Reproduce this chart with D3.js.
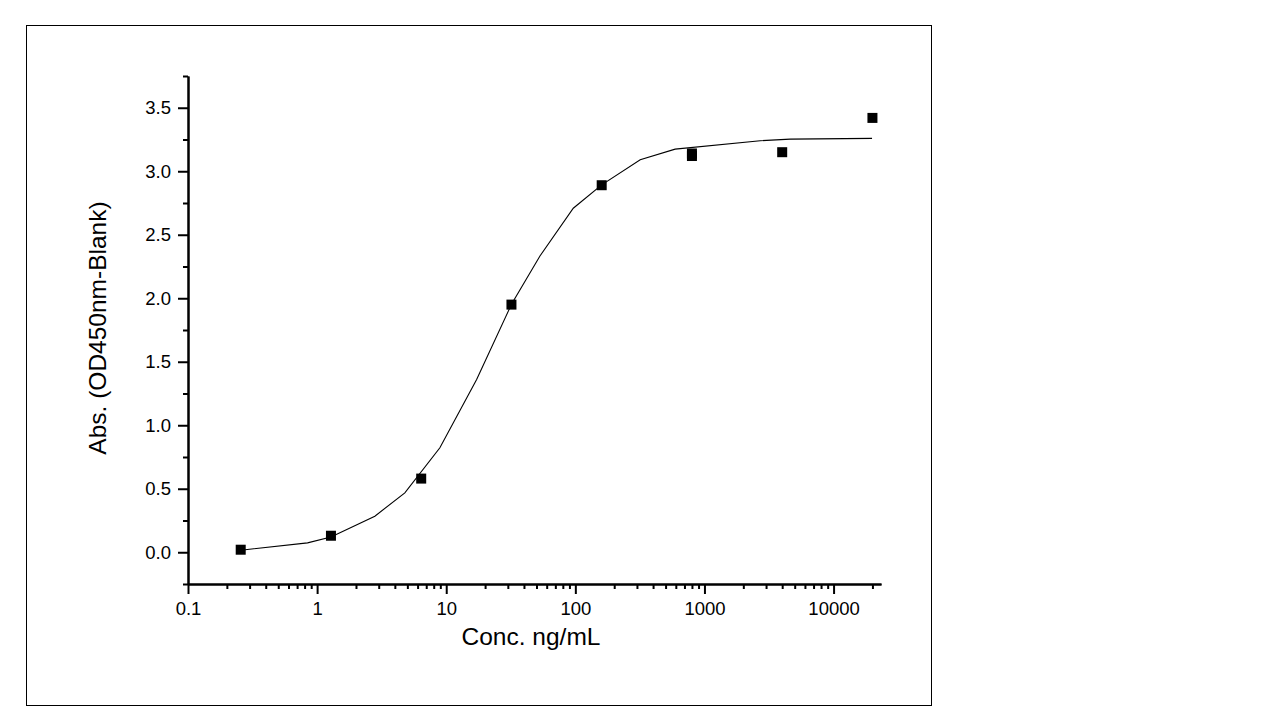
<!DOCTYPE html>
<html>
<head>
<meta charset="utf-8">
<script src="https://cdn.jsdelivr.net/npm/d3@7"></script>
<style>
  html, body { margin: 0; padding: 0; background: #fff; }
  svg { display: block; }
  text { font-family: Arial, "Liberation Sans", sans-serif; fill: #000; }
</style>
</head>
<body>
<svg id="chart" width="1280" height="720"></svg>
<script>
// Measured data points (concentration ng/mL, OD450nm - blank)
const concentrations = [0.256, 1.28, 6.4, 32, 160, 800, 800, 4000, 20000];
const absorbances    = [0.02, 0.13, 0.58, 1.95, 2.89, 3.12, 3.14, 3.15, 3.42];

// Fitted curve vertices
const fitConc = [0.256, 0.843, 1.28, 2.80, 4.78, 8.93, 17.2, 32.1, 53.2, 96.4, 160, 318, 593, 2704, 4617, 19860];
const fitAbs  = [0.016, 0.074, 0.120, 0.284, 0.468, 0.823, 1.361, 1.955, 2.333, 2.709, 2.893, 3.090, 3.174, 3.240, 3.253, 3.259];

// Axis ticks
const xMajorTicks = [0.1, 1, 10, 100, 1000, 10000];
const xTickLabels = ["0.1", "1", "10", "100", "1000", "10000"];
const yMajorTicks = [0, 0.5, 1, 1.5, 2, 2.5, 3, 3.5];
const yTickLabels = ["0.0", "0.5", "1.0", "1.5", "2.0", "2.5", "3.0", "3.5"];

const xTitle = "Conc. ng/mL";
const yTitle = "Abs. (OD450nm-Blank)";

const svg = d3.select("#chart");

// outer frame
svg.append("rect")
  .attr("x", 26.5).attr("y", 25.5)
  .attr("width", 905).attr("height", 680)
  .attr("fill", "none").attr("stroke", "#000").attr("stroke-width", 1);

const x = d3.scaleLog().domain([0.1, 23300]).range([188, 881]);
const y = d3.scaleLinear().domain([-0.25, 3.75]).range([584, 76]);

// minor ticks
const xMinor = [];
for (let e = -1; e <= 4; e++) {
  for (let m = 2; m <= 9; m++) {
    const v = m * Math.pow(10, e);
    if (v <= 23300) xMinor.push(v);
  }
}
const yMinor = d3.range(-0.25, 3.76, 0.5);

const xAxis = svg.append("g").attr("transform", "translate(0,584)");
xAxis.call(d3.axisBottom(x).tickValues(xMajorTicks).tickSize(10)
  .tickFormat((d, i) => xTickLabels[i]).tickSizeOuter(0));
const xAxisMinor = svg.append("g").attr("transform", "translate(0,584)");
xAxisMinor.call(d3.axisBottom(x).tickValues(xMinor).tickSize(5).tickFormat("").tickSizeOuter(0));

const yAxis = svg.append("g").attr("transform", "translate(188,0)");
yAxis.call(d3.axisLeft(y).tickValues(yMajorTicks).tickSize(10)
  .tickFormat((d, i) => yTickLabels[i]).tickSizeOuter(0));
const yAxisMinor = svg.append("g").attr("transform", "translate(188,0)");
yAxisMinor.call(d3.axisLeft(y).tickValues(yMinor).tickSize(5).tickFormat("").tickSizeOuter(0));

svg.selectAll(".domain").attr("stroke", "#000").attr("stroke-width", 2);
svg.selectAll(".tick line").attr("stroke", "#000").attr("stroke-width", 2);
svg.selectAll(".tick text").style("font-size", "18.5px")
  .style("font-family", "Arial, 'Liberation Sans', sans-serif").attr("fill", "#000");
xAxis.selectAll(".tick text").attr("y", 18);
yAxis.selectAll(".tick text").attr("x", -17);

// fitted curve
const line = d3.line().x((d, i) => x(fitConc[i])).y((d, i) => y(fitAbs[i]));
svg.append("path")
  .datum(fitConc)
  .attr("d", line)
  .attr("fill", "none")
  .attr("stroke", "#000")
  .attr("stroke-width", 1.1);

// data points
const sq = 10;
svg.append("g").selectAll("rect")
  .data(concentrations)
  .join("rect")
  .attr("x", (d) => x(d) - sq / 2)
  .attr("y", (d, i) => y(absorbances[i]) - sq / 2)
  .attr("width", sq).attr("height", sq)
  .attr("fill", "#000");

// titles
svg.append("text")
  .attr("x", 531).attr("y", 645)
  .attr("text-anchor", "middle")
  .style("font-size", "24.5px")
  .text(xTitle);

svg.append("text")
  .attr("transform", "translate(106,328) rotate(-90)")
  .attr("text-anchor", "middle")
  .style("font-size", "24.5px")
  .text(yTitle);
</script>
</body>
</html>
